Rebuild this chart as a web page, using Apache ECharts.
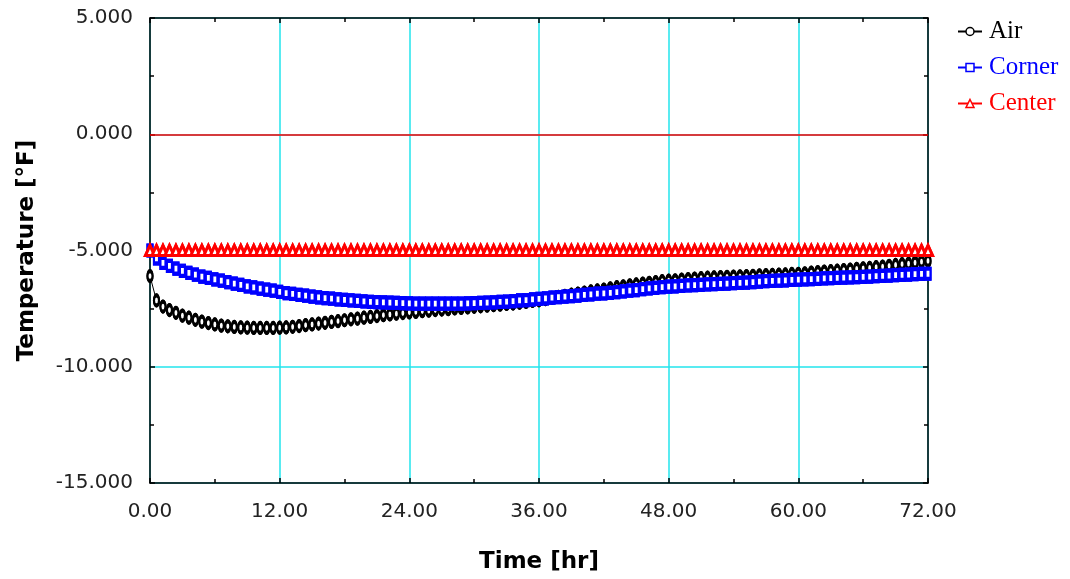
<!DOCTYPE html>
<html>
<head>
<meta charset="utf-8">
<script src="https://cdn.jsdelivr.net/npm/echarts@6/dist/echarts.min.js"></script>
<style>
  html, body { margin: 0; padding: 0; background: #ffffff; }
  #chart { width: 1070px; height: 579px; }
</style>
</head>
<body>
<div id="chart"></div>
<script>
// Temperatures logged every 0.6 hour over 72 hours.
const SAMPLE_STEP_HR = 0.6;

const airTemp = [
  -6.10, -7.15, -7.41, -7.56, -7.68, -7.80, -7.89, -7.98, -8.06, -8.12,
  -8.18, -8.23, -8.26, -8.29, -8.31, -8.32, -8.33, -8.33, -8.33, -8.33,
  -8.32, -8.31, -8.28, -8.25, -8.21, -8.18, -8.14, -8.11, -8.07, -8.04,
  -8.00, -7.96, -7.93, -7.89, -7.86, -7.82, -7.78, -7.75, -7.72, -7.69,
  -7.66, -7.64, -7.61, -7.59, -7.56, -7.54, -7.52, -7.49, -7.47, -7.45,
  -7.42, -7.40, -7.37, -7.35, -7.33, -7.30, -7.28, -7.25, -7.21, -7.17,
  -7.14, -7.09, -7.04, -6.99, -6.95, -6.90, -6.85, -6.81, -6.76, -6.72,
  -6.68, -6.63, -6.58, -6.54, -6.50, -6.46, -6.42, -6.39, -6.36, -6.32,
  -6.30, -6.28, -6.25, -6.23, -6.21, -6.19, -6.17, -6.16, -6.14, -6.13,
  -6.12, -6.11, -6.10, -6.09, -6.07, -6.06, -6.05, -6.04, -6.03, -6.01,
  -6.00, -5.98, -5.95, -5.93, -5.91, -5.89, -5.87, -5.84, -5.82, -5.79,
  -5.77, -5.75, -5.72, -5.69, -5.66, -5.62, -5.59, -5.56, -5.52, -5.48,
  -5.45
];

const cornerTemp = [
  -5.00, -5.34, -5.53, -5.66, -5.78, -5.88, -5.96, -6.04, -6.12, -6.18,
  -6.24, -6.30, -6.36, -6.42, -6.48, -6.54, -6.59, -6.64, -6.68, -6.73,
  -6.78, -6.83, -6.87, -6.91, -6.94, -6.98, -7.02, -7.05, -7.07, -7.10,
  -7.12, -7.15, -7.17, -7.19, -7.21, -7.22, -7.23, -7.24, -7.25, -7.26,
  -7.27, -7.28, -7.28, -7.28, -7.28, -7.28, -7.28, -7.28, -7.28, -7.27,
  -7.26, -7.25, -7.24, -7.23, -7.21, -7.20, -7.18, -7.15, -7.13, -7.10,
  -7.08, -7.06, -7.03, -7.01, -6.98, -6.96, -6.94, -6.91, -6.89, -6.86,
  -6.84, -6.82, -6.79, -6.76, -6.73, -6.70, -6.66, -6.63, -6.61, -6.58,
  -6.55, -6.54, -6.52, -6.50, -6.49, -6.48, -6.46, -6.45, -6.44, -6.42,
  -6.40, -6.39, -6.38, -6.36, -6.34, -6.32, -6.31, -6.30, -6.28, -6.26,
  -6.25, -6.24, -6.23, -6.22, -6.20, -6.19, -6.18, -6.17, -6.16, -6.15,
  -6.13, -6.12, -6.10, -6.09, -6.08, -6.06, -6.05, -6.04, -6.02, -6.01,
  -6.00
];

const centerTemp = [
  -5.0, -5.0, -5.0, -5.0, -5.0, -5.0, -5.0, -5.0, -5.0, -5.0,
  -5.0, -5.0, -5.0, -5.0, -5.0, -5.0, -5.0, -5.0, -5.0, -5.0,
  -5.0, -5.0, -5.0, -5.0, -5.0, -5.0, -5.0, -5.0, -5.0, -5.0,
  -5.0, -5.0, -5.0, -5.0, -5.0, -5.0, -5.0, -5.0, -5.0, -5.0,
  -5.0, -5.0, -5.0, -5.0, -5.0, -5.0, -5.0, -5.0, -5.0, -5.0,
  -5.0, -5.0, -5.0, -5.0, -5.0, -5.0, -5.0, -5.0, -5.0, -5.0,
  -5.0, -5.0, -5.0, -5.0, -5.0, -5.0, -5.0, -5.0, -5.0, -5.0,
  -5.0, -5.0, -5.0, -5.0, -5.0, -5.0, -5.0, -5.0, -5.0, -5.0,
  -5.0, -5.0, -5.0, -5.0, -5.0, -5.0, -5.0, -5.0, -5.0, -5.0,
  -5.0, -5.0, -5.0, -5.0, -5.0, -5.0, -5.0, -5.0, -5.0, -5.0,
  -5.0, -5.0, -5.0, -5.0, -5.0, -5.0, -5.0, -5.0, -5.0, -5.0,
  -5.0, -5.0, -5.0, -5.0, -5.0, -5.0, -5.0, -5.0, -5.0, -5.0,
  -5.0
];

const seriesNames = ['Air', 'Corner', 'Center'];
const seriesColors = ['#000000', '#0000ff', '#ff0000'];
// Hollow markers: white fill with a heavy outline in the series colour.
const seriesSymbols = ['circle', 'rect', 'triangle'];
const seriesSymbolSizes = [[5, 10], [5, 10], [9, 10]];
const MARKER_STROKE = 3;

const xRange = { min: 0, max: 72, interval: 12 };
const yRange = { min: -15, max: 5, interval: 5 };

const GRID_CYAN = '#22e4ec';
const AXIS_FONT = 'DejaVu Sans';

function toPairs(values) {
  return values.map((v, i) => [Math.round(i * SAMPLE_STEP_HR * 10) / 10, v]);
}

const chart = echarts.init(document.getElementById('chart'), null, { renderer: 'canvas' });

const tickCommon = { show: true, inside: true, length: 5, lineStyle: { color: '#000', width: 1.5 } };
const minorCommon = { show: true, splitNumber: 2, length: 4, lineStyle: { color: '#000', width: 1.5 } };
const lineCommon = { show: true, onZero: false, lineStyle: { color: '#000', width: 1.5 } };

const tempSets = [airTemp, cornerTemp, centerTemp];

// Each curve is a thin connecting line plus a marker at every sample.
const series = [];
tempSets.forEach((vals, i) => {
  const pairs = toPairs(vals);
  const markerStyle = { color: '#ffffff', borderColor: seriesColors[i], borderWidth: MARKER_STROKE, opacity: 1 };
  series.push({
    name: seriesNames[i],
    type: 'line',
    data: pairs,
    symbol: seriesSymbols[i],
    symbolSize: seriesSymbolSizes[i],
    showSymbol: true,
    showAllSymbol: true,
    lineStyle: { color: seriesColors[i], width: 1 },
    itemStyle: markerStyle,
    emphasis: { disabled: true },
    z: 3 + i * 2,
    markLine: i === 2 ? {
      silent: true,
      symbol: 'none',
      label: { show: false },
      lineStyle: { color: '#ff0000', width: 1.5, type: 'solid' },
      data: [{ yAxis: 0 }]
    } : undefined
  });
  series.push({
    name: seriesNames[i],
    type: 'scatter',
    data: pairs,
    symbol: seriesSymbols[i],
    symbolSize: seriesSymbolSizes[i],
    itemStyle: markerStyle,
    emphasis: { disabled: true },
    z: 4 + i * 2
  });
});

const option = {
  animation: false,
  backgroundColor: '#ffffff',
  grid: { left: 150, right: 142, top: 18, bottom: 94, containLabel: false },
  legend: {
    orient: 'vertical',
    left: 952,
    top: 14,
    itemWidth: 24,
    itemHeight: 10,
    itemGap: 11,
    itemStyle: { borderWidth: 1.5 },
    data: seriesNames.map((n, i) => ({ name: n, textStyle: { color: seriesColors[i] } })),
    textStyle: { fontFamily: 'Liberation Serif', fontSize: 25, padding: [0, 0, 0, 2] }
  },
  xAxis: [
    {
      type: 'value',
      position: 'bottom',
      min: xRange.min, max: xRange.max, interval: xRange.interval,
      name: 'Time [hr]',
      nameLocation: 'middle',
      nameGap: 68,
      nameTextStyle: { fontFamily: AXIS_FONT, fontWeight: 'bold', fontSize: 23, color: '#000' },
      axisLine: lineCommon,
      axisTick: tickCommon,
      minorTick: minorCommon,
      axisLabel: {
        margin: 19, color: '#222', fontFamily: AXIS_FONT, fontSize: 20,
        formatter: v => v.toFixed(2)
      },
      splitLine: { show: true, lineStyle: { color: GRID_CYAN, width: 1.5 } }
    },
    {
      type: 'value',
      position: 'top',
      min: xRange.min, max: xRange.max, interval: xRange.interval,
      axisLine: lineCommon,
      axisTick: tickCommon,
      minorTick: minorCommon,
      axisLabel: { show: false },
      splitLine: { show: false }
    }
  ],
  yAxis: [
    {
      type: 'value',
      position: 'left',
      min: yRange.min, max: yRange.max, interval: yRange.interval,
      name: 'Temperature [°F]',
      nameLocation: 'middle',
      nameGap: 111,
      nameTextStyle: { fontFamily: AXIS_FONT, fontWeight: 'bold', fontSize: 23, color: '#000' },
      axisLine: lineCommon,
      axisTick: tickCommon,
      minorTick: minorCommon,
      axisLabel: {
        margin: 17, color: '#222', fontFamily: AXIS_FONT, fontSize: 20,
        formatter: v => v.toFixed(3)
      },
      splitLine: { show: true, lineStyle: { color: GRID_CYAN, width: 1.5 } }
    },
    {
      type: 'value',
      position: 'right',
      min: yRange.min, max: yRange.max, interval: yRange.interval,
      axisLine: lineCommon,
      axisTick: tickCommon,
      minorTick: minorCommon,
      axisLabel: { show: false },
      splitLine: { show: false }
    }
  ],
  series: series
};

chart.setOption(option);
</script>
</body>
</html>
